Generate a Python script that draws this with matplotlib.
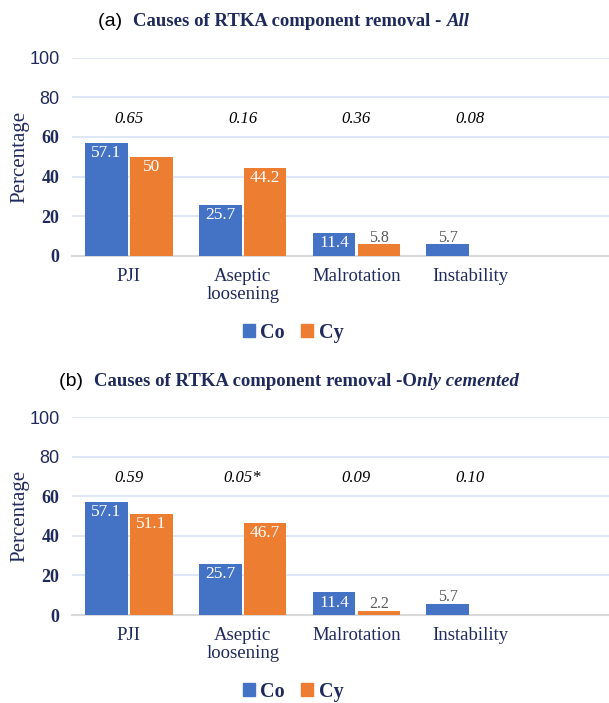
import numpy as np
import matplotlib
matplotlib.use('Agg')
import matplotlib.pyplot as plt
from matplotlib.patches import Patch

CAUSES = ['PJI', 'Aseptic\nloosening', 'Malrotation', 'Instability']
CO_ALL = [57.1, 25.7, 11.4, 5.7]
CY_ALL = [50, 44.2, 5.8, 0]
P_ALL = ['0.65', '0.16', '0.36', '0.08']
CO_CEM = [57.1, 25.7, 11.4, 5.7]
CY_CEM = [51.1, 46.7, 2.2, 0]
P_CEM = ['0.59', '0.05*', '0.09', '0.10']
YTICKS = [0, 20, 40, 60, 80, 100]

BLUE = '#4472C4'
ORANGE = '#ED7D31'
NAVY = '#1F2A5C'
SERIF = ['Liberation Serif', 'DejaVu Serif']
NARROW = ['Liberation Sans Narrow', 'Liberation Sans', 'DejaVu Sans']

fig = plt.figure(figsize=(6.09, 7.03), dpi=100)


def title_parts(y, xc, parts):
    # parts: (text, family, weight, style); laid out left to right, centred on xc
    r = fig.canvas.get_renderer()
    texts = []
    for s, fam, w, st in parts:
        t = fig.text(0, y, s, family=fam, weight=w, style=st,
                     fontsize=14 if fam is NARROW else 13.5,
                     color=NAVY if fam is SERIF else 'black', va='center')
        texts.append(t)
    widths = [t.get_window_extent(r).width for t in texts]
    x = xc - sum(widths) / 2
    for t, w in zip(texts, widths):
        t.set_x(x / 609)
        x += w


def panel(rect, co, cy, pv, title, legend_y):
    ax = fig.add_axes(rect)
    x = np.arange(len(CAUSES))
    w = 0.375
    off = 0.197
    b1 = ax.bar(x - off, co, w, color=BLUE, zorder=3)
    b2 = ax.bar(x + off, cy, w, color=ORANGE, zorder=3)
    for bars in (b1, b2):
        for b in bars:
            h = b.get_height()
            if h == 0:
                continue
            cx = b.get_x() + b.get_width() / 2
            if h > 10:
                ax.text(cx, h - 5.2, f'{h:g}', ha='center', va='center',
                        color='white', family=SERIF, fontsize=12.5, zorder=4)
            else:
                ax.text(cx, h + 3.3, f'{h:g}', ha='center', va='center',
                        color='#595959', family=SERIF, fontsize=11.5, zorder=4)
    for i, p in enumerate(pv):
        ax.text(i, 69, p, ha='center', va='center', style='italic',
                family=SERIF, fontsize=12, color='black')
    ax.set_xlim(-0.5, 4.22)
    ax.set_ylim(0, 100)
    ax.set_yticks(YTICKS)
    labs = ax.set_yticklabels([str(v) for v in YTICKS], fontsize=13, color=NAVY)
    for v, lab in zip(YTICKS, labs):
        if v >= 80:
            lab.set_family(NARROW)
        else:
            lab.set_family(SERIF)
            lab.set_weight('bold')
    ax.tick_params(axis='y', length=0, pad=9)
    ax.set_xticks(x)
    ax.set_xticklabels(CAUSES, family=SERIF, fontsize=13.5, color=NAVY,
                       linespacing=1.05, va='top')
    ax.tick_params(axis='x', length=0, pad=9)
    ax.grid(axis='y', color='#D9E2F3', linewidth=1.2, zorder=0)
    for s in ('top', 'right', 'left'):
        ax.spines[s].set_visible(False)
    ax.spines['bottom'].set_color('#D9D9D9')
    ax.spines['bottom'].set_linewidth(1.5)
    ax.set_ylabel('Percentage', family=SERIF, fontsize=15, color=NAVY)
    ax.yaxis.set_label_coords(-0.08, 0.5)
    handles = [Patch(color=BLUE, label='Co'), Patch(color=ORANGE, label='Cy')]
    fig.legend(handles=handles, loc='center',
               bbox_to_anchor=(293 / 609, 1 - legend_y / 703),
               ncol=2, frameon=False, handlelength=0.62, handleheight=0.62,
               handletextpad=0.25, columnspacing=0.8,
               prop={'family': SERIF, 'weight': 'bold', 'size': 14.5},
               labelcolor=NAVY)
    title_parts(1 - title[0] / 703, title[1], title[2])
    return ax


panel([72 / 609, 1 - 255.7 / 703, 1 - 72 / 609, 198 / 703], CO_ALL, CY_ALL, P_ALL,
      (22, 284, [('(a)  ', NARROW, 'normal', 'normal'),
                 ('Causes of RTKA component removal - ', SERIF, 'bold', 'normal'),
                 ('All', SERIF, 'bold', 'italic')]), 333)
panel([72 / 609, 1 - 615 / 703, 1 - 72 / 609, 198 / 703], CO_CEM, CY_CEM, P_CEM,
      (381, 289, [('(b)  ', NARROW, 'normal', 'normal'),
                  ('Causes of RTKA component removal -O', SERIF, 'bold', 'normal'),
                  ('nly cemented', SERIF, 'bold', 'italic')]), 692)

fig.savefig('out.png', dpi=100, facecolor='white')
